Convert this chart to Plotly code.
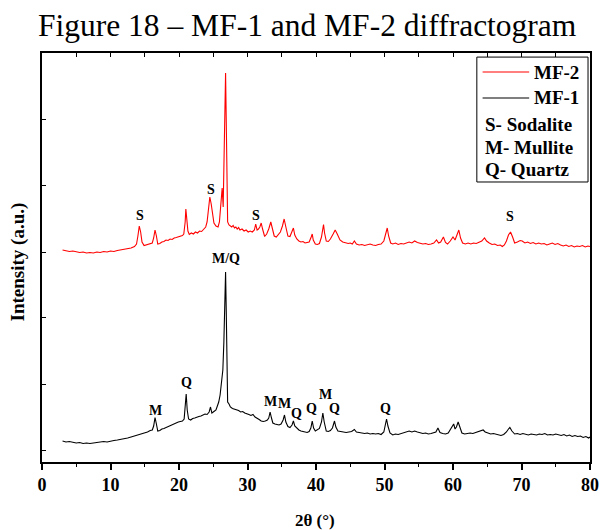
import plotly.graph_objects as go

# ---------------- data (2-theta in degrees, intensity in arbitrary units) ----------------
mf2_theta = [3.0, 3.5, 4.0, 4.5, 5.0, 5.5, 6.0, 6.5, 7.0, 7.5, 8.0, 8.5, 9.0, 9.5, 10.0, 10.5, 11.0, 11.5,
             12.0, 12.5, 13.0, 13.5, 13.8, 14.0, 14.2, 14.4, 14.6, 14.9, 15.2, 15.5, 15.8, 16.1, 16.3, 16.5,
             16.7, 16.9, 17.2, 17.5, 17.8, 18.1, 18.4, 18.7, 19.0, 19.3, 19.6, 19.9, 20.2, 20.5, 20.7, 20.9,
             21.0, 21.1, 21.3, 21.5, 21.8, 22.1, 22.4, 22.7, 23.0, 23.3, 23.6, 23.9, 24.1, 24.3, 24.5, 24.7,
             24.9, 25.1, 25.4, 25.7, 25.9, 26.1, 26.3, 26.45, 26.6, 26.7, 26.8, 26.9, 27.0, 27.1, 27.3, 27.5,
             27.7, 27.9, 28.1, 28.3, 28.5, 28.7, 28.9, 29.2, 29.5, 29.8, 30.1, 30.4, 30.7, 31.0, 31.2, 31.4,
             31.6, 31.8, 32.0, 32.2, 32.5, 32.8, 33.1, 33.4, 33.6, 33.9, 34.2, 34.5, 34.8, 35.1, 35.35, 35.6,
             35.9, 36.2, 36.5, 36.7, 36.9, 37.2, 37.5, 37.8, 38.1, 38.4, 38.7, 39.0, 39.3, 39.45, 39.6, 39.9,
             40.2, 40.5, 40.8, 41.0, 41.1, 41.25, 41.5, 41.8, 42.1, 42.5, 42.8, 43.1, 43.5, 43.9, 44.3, 44.7,
             45.0, 45.3, 45.6, 45.9, 46.3, 46.7, 47.1, 47.5, 47.9, 48.3, 48.7, 49.1, 49.5, 49.9, 50.2, 50.4,
             50.6, 50.9, 51.2, 51.6, 52.0, 52.4, 52.8, 53.2, 53.6, 54.0, 54.4, 54.8, 55.2, 55.6, 56.0, 56.4,
             56.8, 57.2, 57.6, 57.9, 58.2, 58.6, 58.9, 59.2, 59.6, 60.0, 60.3, 60.6, 60.85, 61.1, 61.4, 61.8,
             62.2, 62.6, 63.0, 63.4, 63.8, 64.2, 64.6, 64.9, 65.3, 65.7, 66.1, 66.5, 66.9, 67.2, 67.5, 67.8,
             68.1, 68.4, 68.7, 69.0, 69.4, 69.8, 70.1, 70.5, 70.9, 71.3, 71.7, 72.1, 72.5, 72.9, 73.3, 73.7,
             74.1, 74.5, 74.9, 75.3, 75.7, 76.1, 76.5, 76.9, 77.3, 77.7, 78.1, 78.5, 78.9, 79.3, 79.7, 80.0]
mf2_int = [212, 211, 210.5, 211, 210, 209.5, 210, 209, 209.5, 209, 210, 209.5, 210.5, 210, 211, 210.5, 211.5, 212,
           212.5, 213.5, 214, 215.5, 218, 226, 236, 230, 220, 216.5, 217, 218, 218.5, 219, 224, 232,
           226, 218, 218.5, 220, 220.5, 222, 221.5, 223, 222.5, 224, 224.5, 225, 226, 226.5, 228, 240,
           253, 245, 231, 227.5, 229, 228, 230, 229, 231, 230.5, 233, 235, 240, 255, 265, 258,
           245, 239, 236, 235, 240, 262, 274, 255, 300, 360, 389, 340, 260, 240, 237, 236,
           235, 236.5, 234, 235, 233, 234.5, 232, 233, 231, 232, 230, 231, 230, 232, 238, 232,
           233, 235, 239, 233, 225.5, 228, 233, 240, 233, 226, 225, 227, 230, 236, 243, 235,
           226, 225.5, 230, 234, 227, 223, 221, 220, 220.5, 219, 219.5, 220, 225, 228, 222, 218,
           217.5, 218.5, 225, 235, 237.5, 229, 221, 220.5, 223, 228, 232, 228, 222, 220, 219, 218.5,
           219, 218, 221, 218, 217, 217.5, 216.5, 217, 218, 217, 216.5, 217.5, 218, 221, 230, 234,
           226, 219, 218, 219, 217.5, 218.5, 218, 219, 220, 219, 221, 219.5, 219, 218, 218.5, 217.5,
           218, 219, 222, 219, 220, 225, 219.5, 218, 221, 225, 222, 227, 232, 224, 219, 218,
           219, 218, 219, 218.5, 220, 221, 224, 221, 219, 217.5, 218, 216.5, 217, 215.5, 217, 221,
           227, 230, 225, 219, 220, 221.5, 221, 219, 220, 218.5, 219.5, 218, 219, 218, 218.5, 217,
           218, 219, 217.5, 218.5, 217, 216, 217, 215.5, 216.5, 215, 216, 215.5, 216.5, 215, 216, 215.5]

mf1_theta = [3.0, 3.5, 4.0, 4.5, 5.0, 5.5, 6.0, 6.5, 7.0, 7.5, 8.0, 8.5, 9.0, 9.5, 10.0, 10.5, 11.0, 11.5,
             12.0, 12.5, 13.0, 13.5, 14.0, 14.5, 15.0, 15.4, 15.8, 16.1, 16.3, 16.5, 16.7, 16.9, 17.2, 17.5,
             17.8, 18.1, 18.4, 18.7, 19.0, 19.3, 19.6, 19.9, 20.2, 20.5, 20.75, 20.9, 21.05, 21.2, 21.4, 21.7,
             22.0, 22.3, 22.6, 22.9, 23.2, 23.5, 23.8, 24.1, 24.4, 24.6, 24.8, 25.1, 25.4, 25.6, 25.8, 26.0,
             26.2, 26.4, 26.55, 26.7, 26.8, 26.9, 27.0, 27.1, 27.3, 27.5, 27.8, 28.1, 28.4, 28.7, 29.0, 29.3,
             29.6, 29.9, 30.2, 30.5, 30.8, 31.1, 31.4, 31.7, 32.0, 32.3, 32.6, 32.9, 33.1, 33.3, 33.5, 33.7,
             34.0, 34.3, 34.6, 34.9, 35.2, 35.4, 35.6, 35.9, 36.2, 36.5, 36.7, 36.9, 37.2, 37.5, 37.8, 38.1,
             38.4, 38.7, 39.0, 39.25, 39.45, 39.65, 39.9, 40.2, 40.5, 40.8, 41.0, 41.2, 41.5, 41.8, 42.1, 42.4,
             42.7, 42.9, 43.2, 43.6, 44.0, 44.4, 44.8, 45.2, 45.6, 45.9, 46.3, 46.7, 47.1, 47.5, 47.9, 48.3,
             48.7, 49.1, 49.5, 49.9, 50.1, 50.3, 50.5, 50.8, 51.2, 51.6, 52.0, 52.4, 52.8, 53.2, 53.6, 54.0,
             54.4, 54.8, 55.2, 55.6, 56.0, 56.4, 56.8, 57.2, 57.5, 57.8, 58.1, 58.5, 58.9, 59.3, 59.6, 59.9,
             60.1, 60.3, 60.5, 60.75, 61.0, 61.3, 61.7, 62.1, 62.5, 62.9, 63.3, 63.7, 64.1, 64.4, 64.7, 65.1,
             65.5, 65.9, 66.3, 66.7, 67.0, 67.4, 67.8, 68.1, 68.3, 68.6, 69.0, 69.4, 69.8, 70.2, 70.6, 71.0,
             71.4, 71.8, 72.2, 72.6, 73.0, 73.4, 73.8, 74.2, 74.6, 75.0, 75.4, 75.8, 76.2, 76.6, 77.0, 77.4,
             77.8, 78.2, 78.6, 79.0, 79.4, 79.8, 80.0]
mf1_int = [21, 20, 20.5, 19.5, 19, 19.5, 18.5, 19, 18.5, 19, 19.5, 20, 20.5, 20, 21, 21.5, 22, 22.5,
           23, 24, 25, 26, 27, 28, 29, 30, 31.5, 32, 36, 44.5, 38, 31, 31.5, 33,
           33.5, 34.5, 35.5, 36, 37.5, 38, 39, 40, 40.5, 41, 43, 55, 68, 52, 43, 42,
           43.5, 44, 45, 45.5, 46, 47, 48, 47.5, 50, 55, 49, 50.5, 52, 56, 60, 67,
           80, 92, 120, 170, 190, 150, 90, 60, 58, 55, 53.5, 53, 52, 51.5, 50, 50.5,
           49, 48.5, 47.5, 46.5, 47.5, 45, 44, 42.5, 41, 40.5, 41, 42, 44, 50, 44, 39,
           38, 37.5, 37, 38, 42, 47, 40, 35.5, 34.5, 37, 41, 36, 33.5, 32, 31, 30.5,
           30, 29.5, 30.5, 34, 41, 34, 31, 32, 33.5, 40, 49, 40, 31, 30.5, 31.5, 34,
           41, 35, 31, 30.5, 30, 29.5, 30, 30.5, 32.5, 30, 29.5, 29, 28.5, 29, 28, 28.5,
           28, 28.5, 27.5, 30, 36, 43, 36, 29, 27, 28, 27.5, 28.5, 29, 30.5, 31, 30,
           31, 30, 29.5, 28.5, 29, 28, 28.5, 29, 30, 34, 29.5, 28.5, 28, 29, 32, 36,
           38, 33, 35, 40, 34, 29, 28, 28.5, 29, 28.5, 29.5, 30, 31, 32, 30, 29,
           28, 28.5, 27.5, 27, 26.5, 27.5, 30, 33, 34.5, 31, 28, 28.5, 27.5, 28.5, 28, 27,
           28, 27.5, 27, 28, 27.5, 28.5, 27, 27.5, 27, 28, 27, 26.5, 27.5, 26, 27, 25.5,
           26.5, 25.5, 26, 24.5, 25.5, 24, 25]

# phase labels: (text, 2-theta, intensity)
mf2_labels = [("S", 14.3, 247), ("S", 24.6, 273), ("S", 31.3, 247), ("S", 68.3, 246)]
mf1_labels = [("M", 16.6, 52), ("Q", 21.1, 80), ("M/Q", 26.9, 204), ("M", 33.4, 61), ("M", 35.4, 59),
              ("Q", 37.2, 49), ("Q", 39.35, 54), ("M", 41.4, 68), ("Q", 42.7, 54), ("Q", 50.1, 54)]

x_ticks = [0, 10, 20, 30, 40, 50, 60, 70, 80]
y_tickvals = [12, 78, 145, 210, 277, 343]
legend_entries = ["MF-2", "MF-1"]
legend_notes = ["S- Sodalite", "M- Mullite", "Q- Quartz"]

SERIF = "Liberation Serif, Times New Roman, serif"

fig = go.Figure()
fig.add_trace(go.Scatter(x=mf1_theta, y=mf1_int, mode="lines", name="MF-1",
                         line=dict(color="black", width=1.1), showlegend=False, hoverinfo="skip"))
fig.add_trace(go.Scatter(x=mf2_theta, y=mf2_int, mode="lines", name="MF-2",
                         line=dict(color="#ff0000", width=1.1), showlegend=False, hoverinfo="skip"))
# helper trace so the top axis (inner ticks) is drawn
fig.add_trace(go.Scatter(x=[x_ticks[0]], y=[y_tickvals[0]], xaxis="x2", mode="markers",
                         marker=dict(opacity=0), showlegend=False, hoverinfo="skip"))

annotations = []
for t, x, y in mf2_labels + mf1_labels:
    annotations.append(dict(x=x, y=y, xref="x", yref="y", text=f"<b>{t}</b>", showarrow=False,
                            font=dict(family=SERIF, size=14, color="black"), yanchor="middle"))

# title
annotations.append(dict(x=0.485, y=1.068, xref="paper", yref="paper", showarrow=False,
                        text="Figure 18 – MF-1 and MF-2 diffractogram",
                        font=dict(family=SERIF, size=31.5, color="black"), yanchor="middle"))
# axis titles
annotations.append(dict(x=0.499, y=-0.142, xref="paper", yref="paper", showarrow=False,
                        text="<b>2θ (°)</b>", font=dict(family=SERIF, size=17, color="black"),
                        yanchor="middle"))
annotations.append(dict(x=-0.043, y=0.489, xref="paper", yref="paper", showarrow=False,
                        text="<b>Intensity (a.u.)</b>", textangle=-90,
                        font=dict(family=SERIF, size=19, color="black"), xanchor="center",
                        yanchor="middle"))

# custom legend box
shapes = [dict(type="rect", xref="paper", yref="paper", x0=0.7935, x1=0.9964, y0=0.6846, y1=0.990,
               line=dict(color="black", width=1), fillcolor="white", layer="above")]
leg_y = [0.9535, 0.890]
leg_colors = ["#ff0000", "black"]
for name, yy, c in zip(legend_entries, leg_y, leg_colors):
    shapes.append(dict(type="line", xref="paper", yref="paper", x0=0.804, x1=0.889, y0=yy, y1=yy,
                       line=dict(color=c, width=1.1), layer="above"))
    annotations.append(dict(x=0.894, y=yy, xref="paper", yref="paper", showarrow=False,
                            text=f"<b>{name}</b>", xanchor="left", yanchor="middle",
                            font=dict(family=SERIF, size=19, color="black")))
for note, yy in zip(legend_notes, [0.826, 0.768, 0.714]):
    annotations.append(dict(x=0.804, y=yy, xref="paper", yref="paper", showarrow=False,
                            text=f"<b>{note}</b>", xanchor="left", yanchor="middle",
                            font=dict(family=SERIF, size=19, color="black")))

fig.update_layout(
    width=609, height=530,
    margin=dict(l=42, r=10, t=53, b=68),
    paper_bgcolor="white", plot_bgcolor="white",
    showlegend=False,
    xaxis=dict(range=[0, 80], tickvals=x_ticks, ticktext=[f"<b>{v}</b>" for v in x_ticks],
               ticks="outside", ticklen=6, tickwidth=1.5, tickcolor="black",
               minor=dict(dtick=5, tick0=0, ticks="outside", ticklen=3, tickwidth=1.2, tickcolor="black"),
               showline=True, linecolor="black", linewidth=1.5, mirror=True,
               showgrid=False, zeroline=False,
               tickfont=dict(family=SERIF, size=18, color="black")),
    xaxis2=dict(range=[0, 80], overlaying="x", side="top", dtick=5, tick0=0, ticks="inside",
                ticklen=4, tickwidth=1, tickcolor="black", showticklabels=False,
                showline=False, showgrid=False, zeroline=False),
    yaxis=dict(range=[0, 409], tickvals=y_tickvals, showticklabels=False,
               ticks="inside", ticklen=4, tickwidth=1, tickcolor="black",
               showline=True, linecolor="black", linewidth=1.5, mirror=True,
               showgrid=False, zeroline=False),
    annotations=annotations,
    shapes=shapes,
)

# remove the browser's default 8px body margin so the figure fills the window exactly
fig.write_html("out.html", config={"displayModeBar": False},
               post_script="document.body.style.margin='0';")
